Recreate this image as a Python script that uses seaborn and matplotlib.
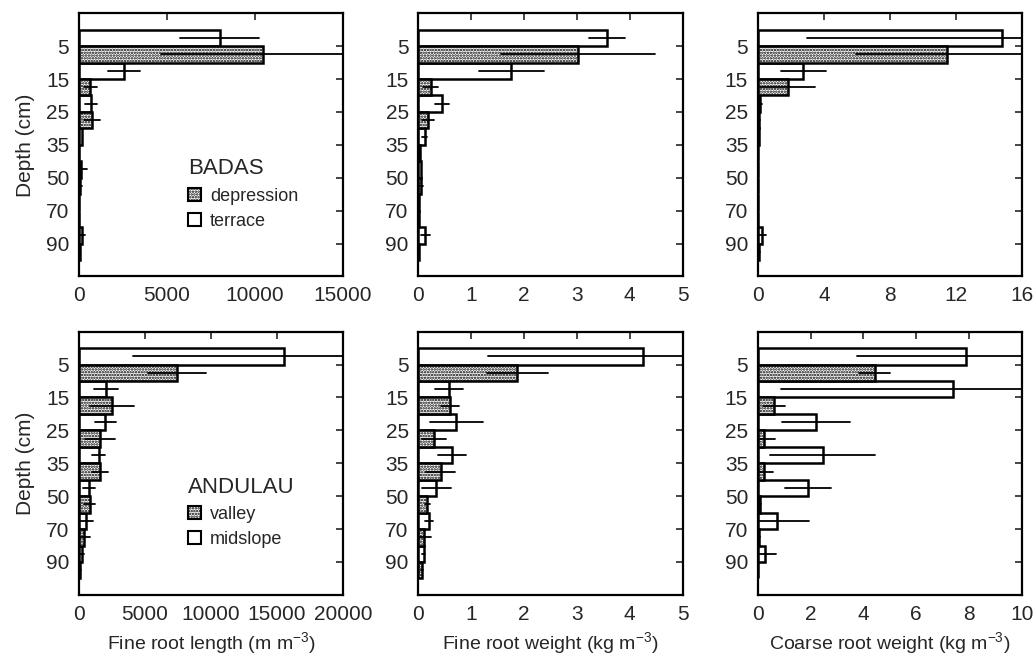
import numpy as np
import pandas as pd
import seaborn as sns
import matplotlib
matplotlib.use("Agg")
import matplotlib.pyplot as plt
from matplotlib.patches import Patch

# Profundidades (clases de suelo)
depths = ["5", "15", "25", "35", "50", "70", "90"]

# BADAS: terrace (blanco) / depression (punteado)
badas_length_terrace = [8000, 2550, 670, 200, 130, 20, 150]
badas_length_terrace_err = [2250, 920, 350, 0, 300, 0, 200]
badas_length_depression = [10450, 650, 760, 30, 80, 20, 50]
badas_length_depression_err = [5800, 370, 460, 0, 80, 0, 30]

badas_weight_terrace = [3.57, 1.76, 0.45, 0.12, 0.04, 0.02, 0.13]
badas_weight_terrace_err = [0.35, 0.62, 0.13, 0.05, 0, 0, 0.09]
badas_weight_depression = [3.02, 0.23, 0.18, 0.03, 0.05, 0.01, 0.02]
badas_weight_depression_err = [1.45, 0.15, 0.12, 0, 0.03, 0, 0]

badas_coarse_terrace = [14.8, 2.76, 0.15, 0.05, 0.03, 0.02, 0.25]
badas_coarse_terrace_err = [11.8, 1.38, 0.1, 0, 0, 0, 0.25]
badas_coarse_depression = [11.46, 1.8, 0.1, 0.02, 0.02, 0.01, 0.1]
badas_coarse_depression_err = [5.5, 1.65, 0.05, 0, 0, 0, 0.05]

# ANDULAU: midslope (blanco) / valley (punteado)
andulau_length_midslope = [15500, 2050, 2000, 1500, 750, 550, 250]
andulau_length_midslope_err = [11400, 880, 780, 500, 450, 480, 150]
andulau_length_valley = [7400, 2500, 1600, 1600, 800, 400, 100]
andulau_length_valley_err = [2200, 1650, 1130, 580, 450, 400, 50]

andulau_weight_midslope = [4.26, 0.58, 0.72, 0.64, 0.34, 0.20, 0.10]
andulau_weight_midslope_err = [2.95, 0.27, 0.50, 0.26, 0.27, 0.08, 0.03]
andulau_weight_valley = [1.87, 0.60, 0.30, 0.42, 0.17, 0.11, 0.06]
andulau_weight_valley_err = [0.58, 0.17, 0.23, 0.27, 0.05, 0.13, 0.02]

andulau_coarse_midslope = [7.9, 7.38, 2.2, 2.45, 1.9, 0.72, 0.28]
andulau_coarse_midslope_err = [4.15, 6.5, 1.3, 1.98, 0.88, 1.2, 0.4]
andulau_coarse_valley = [4.42, 0.6, 0.25, 0.25, 0.08, 0.05, 0.02]
andulau_coarse_valley_err = [0.58, 0.42, 0.4, 0.33, 0.05, 0.03, 0]

xlabels = ["Fine root length (m m$^{-3}$)",
           "Fine root weight (kg m$^{-3}$)",
           "Coarse root weight (kg m$^{-3}$)"]

sns.set_style("white")
plt.rcParams["font.family"] = ["Liberation Sans", "DejaVu Sans"]
plt.rcParams["mathtext.default"] = "regular"
plt.rcParams["hatch.color"] = "black"
plt.rcParams["hatch.linewidth"] = 1.2


def tabla(blanco, blanco_err, punteado, punteado_err, nombres):
    """Dos filas por barra (valor -/+ error): la media da la barra y
    el intervalo 0-100 % da la barra de error."""
    filas = []
    for nombre, vals, errs in [(nombres[0], blanco, blanco_err),
                               (nombres[1], punteado, punteado_err)]:
        for d, v, e in zip(depths, vals, errs):
            filas.append((d, nombre, v - e))
            filas.append((d, nombre, v + e))
    return pd.DataFrame(filas, columns=["depth", "site", "value"])


def panel(ax, df, nombres, xmax, xticks):
    sns.barplot(data=df, x="value", y="depth", hue="site",
                hue_order=nombres, order=depths, orient="h",
                width=1.0, palette=["white", "white"],
                edgecolor="black", linewidth=1.8,
                errorbar=("pi", 100),
                err_kws={"color": "black", "linewidth": 1.3},
                legend=False, ax=ax)
    for barra in ax.containers[1]:
        barra.set_hatch("......")
    ax.set_xlim(0, xmax)
    ax.set_xticks(xticks)
    ax.set_ylim(7, -1)
    ax.set_xlabel("")
    ax.set_ylabel("")
    ax.tick_params(direction="in", top=True, right=True, length=5,
                   width=1.2, labelsize=15, pad=7)
    for s in ax.spines.values():
        s.set_linewidth(1.6)
        s.set_color("black")


fig, axes = plt.subplots(2, 3, figsize=(10.35, 6.61), dpi=100)
fig.subplots_adjust(left=0.0763, right=0.9874, top=0.980, bottom=0.100,
                    wspace=0.285, hspace=0.21)

top = [("terrace", "depression"),
       [(badas_length_terrace, badas_length_terrace_err,
         badas_length_depression, badas_length_depression_err,
         15000, [0, 5000, 10000, 15000]),
        (badas_weight_terrace, badas_weight_terrace_err,
         badas_weight_depression, badas_weight_depression_err,
         5, [0, 1, 2, 3, 4, 5]),
        (badas_coarse_terrace, badas_coarse_terrace_err,
         badas_coarse_depression, badas_coarse_depression_err,
         16, [0, 4, 8, 12, 16])]]
bottom = [("midslope", "valley"),
          [(andulau_length_midslope, andulau_length_midslope_err,
            andulau_length_valley, andulau_length_valley_err,
            20000, [0, 5000, 10000, 15000, 20000]),
           (andulau_weight_midslope, andulau_weight_midslope_err,
            andulau_weight_valley, andulau_weight_valley_err,
            5, [0, 1, 2, 3, 4, 5]),
           (andulau_coarse_midslope, andulau_coarse_midslope_err,
            andulau_coarse_valley, andulau_coarse_valley_err,
            10, [0, 2, 4, 6, 8, 10])]]

for fila, (nombres, paneles) in enumerate([top, bottom]):
    for col, (b, be, p, pe, xmax, xt) in enumerate(paneles):
        ax = axes[fila, col]
        panel(ax, tabla(b, be, p, pe, nombres), nombres, xmax, xt)
        if col == 0:
            ax.set_ylabel("Depth (cm)", fontsize=15, labelpad=8)
        if fila == 1:
            ax.set_xlabel(xlabels[col], fontsize=14, labelpad=5)

# Leyendas
for ax, titulo, nombres in [(axes[0, 0], "BADAS", ("depression", "terrace")),
                            (axes[1, 0], "ANDULAU", ("valley", "midslope"))]:
    handles = [Patch(facecolor="white", edgecolor="black", hatch="......",
                     linewidth=1.5, label=nombres[0]),
               Patch(facecolor="white", edgecolor="black",
                     linewidth=1.5, label=nombres[1])]
    leg = ax.legend(handles=handles, title=titulo, loc="upper left",
                    bbox_to_anchor=(0.35, 0.51), frameon=False,
                    fontsize=13, title_fontsize=16, alignment="left",
                    handlelength=0.75, handleheight=0.75, handletextpad=0.5,
                    labelspacing=0.45)

fig.savefig("out.png", dpi=100)
